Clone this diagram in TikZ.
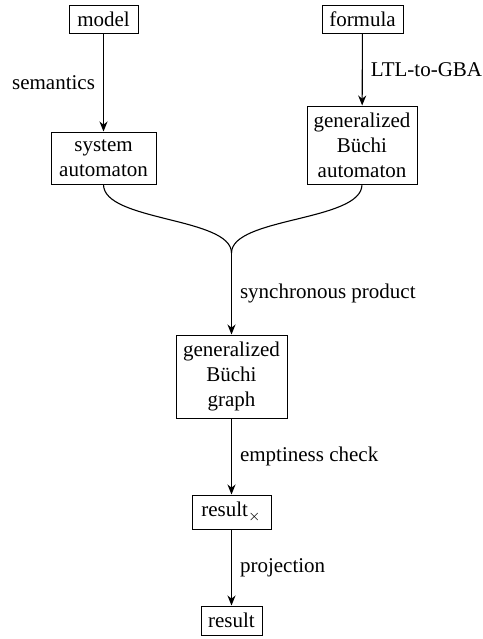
\documentclass[tikz,border=0pt]{standalone}
\usepackage{fontspec}
\setmainfont{Liberation Serif}
\usetikzlibrary{calc,arrows.meta}
\begin{document}
\begin{tikzpicture}[x=0.5pt,y=-0.5pt,
  every node/.style={font=\fontsize{10.5}{12.5}\selectfont},
  box/.style={draw, line width=0.5pt, inner sep=0pt, align=center},
  lbl/.style={inner sep=4pt},
  conn/.style={line width=0.55pt},
  arr/.style={conn,-{Stealth[length=5pt,width=4pt,inset=1.6pt]}}]
\useasboundingbox (0,0) rectangle (483,639);
\node[box, minimum width=34.5pt, minimum height=14pt] (model) at (103.5,19) {model};
\node[box, minimum width=40.5pt, minimum height=14pt] (formula) at (362.5,19) {formula};
\node[box, minimum width=52.5pt, minimum height=26pt] (sys) at (103.5,158) {system\\automaton};
\node[box, minimum width=55pt, minimum height=39pt] (gba) at (362,145) {generalized\\Büchi\\automaton};
\node[box, minimum width=55.5pt, minimum height=41.5pt] (gbg) at (231.5,376.5) {generalized\\Büchi\\graph};
\node[box, minimum width=39.5pt, minimum height=17pt] (resx) at (231.5,512) {result$_{\times}$};
\node[box, minimum width=30.5pt, minimum height=14.5pt] (res) at (231.5,620.5) {result};
\coordinate (m) at (231.5,253);
\draw[arr] (model) -- node[lbl, left] (l1) {semantics} (sys);
\draw[arr] (formula) -- node[lbl, right] (l2) {LTL-to-GBA} (gba);
\draw[conn] (sys.south) .. controls ($(sys.south)+(0,37)$) and ($(m)+(0,-36)$) .. (m);
\draw[conn] (gba.south) .. controls ($(gba.south)+(0,37)$) and ($(m)+(0,-36)$) .. (m);
\draw[arr] (m) -- node[lbl, right] (l3) {synchronous product} (gbg);
\draw[arr] (gbg) -- node[lbl, right] (l4) {emptiness check} (resx);
\draw[arr] (resx) -- node[lbl, right] (l5) {projection} (res);
\end{tikzpicture}
\end{document}
